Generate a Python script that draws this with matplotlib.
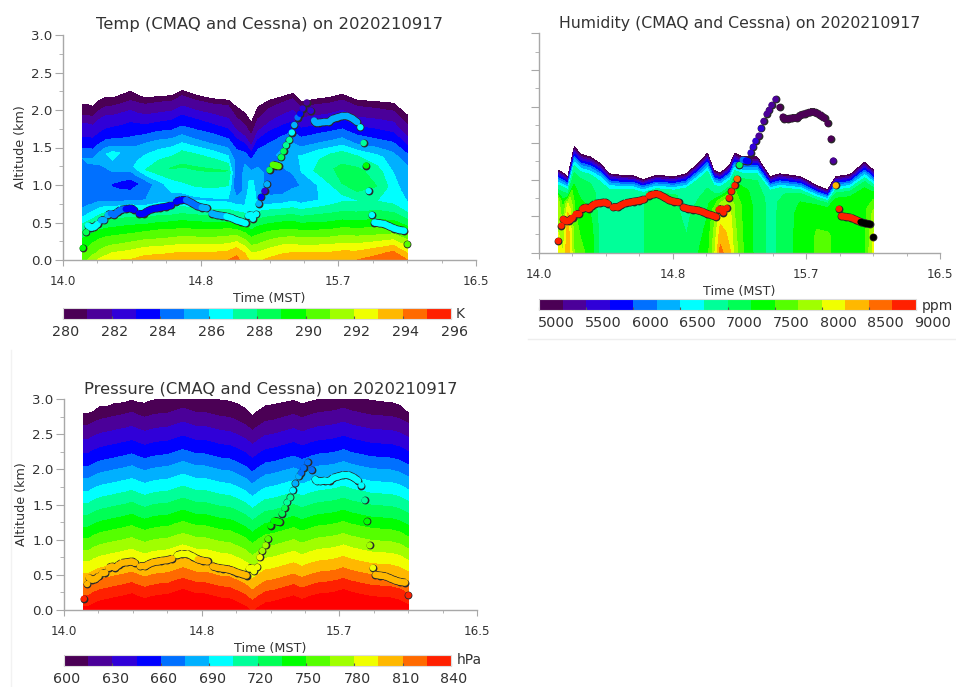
import matplotlib
matplotlib.use('Agg')
import matplotlib.pyplot as plt
import numpy as np
from matplotlib.cm import ScalarMappable
from matplotlib.collections import LineCollection
from matplotlib.colors import BoundaryNorm, ListedColormap
from matplotlib.lines import Line2D
from matplotlib.transforms import ScaledTranslation

# flight track (Cessna), same for all three panels
track_time = [
    14.12, 14.14, 14.15, 14.17, 14.19, 14.21, 14.23, 14.25, 14.27, 14.29,
    14.31, 14.33, 14.35, 14.38, 14.41, 14.43, 14.46, 14.49, 14.51, 14.54,
    14.57, 14.59, 14.625, 14.655, 14.685, 14.715, 14.745, 14.78, 14.81, 14.84,
    14.87, 14.90, 14.93, 14.96, 14.99, 15.02, 15.05, 15.08, 15.105, 15.12,
    15.14, 15.15, 15.17, 15.185, 15.20, 15.22, 15.235, 15.25, 15.27, 15.29,
    15.305, 15.32, 15.335, 15.35, 15.37, 15.385, 15.40, 15.42, 15.435, 15.45,
    15.475, 15.50, 15.52, 15.53, 15.55, 15.58, 15.61, 15.63, 15.66, 15.69,
    15.72, 15.75, 15.78, 15.80, 15.82, 15.835, 15.85, 15.87, 15.885, 15.915,
    15.945, 15.975, 16.005, 16.035, 16.065, 16.085]
track_alt = [
    .16, .37, .46, .43, .44, .48, .53, .53, .60, .62,
    .60, .64, .67, .68, .69, .67, .62, .62, .65, .68,
    .69, .70, .71, .73, .78, .80, .80, .76, .72, .70,
    .69, .62, .60, .59, .58, .56, .53, .51, .49, .59,
    .60, .55, .61, .75, .84, .92, 1.01, 1.20, 1.27, 1.26,
    1.25, 1.37, 1.45, 1.53, 1.60, 1.70, 1.80, 1.90, 1.95, 2.02,
    2.10, 1.99, 1.86, 1.83, 1.83, 1.84, 1.84, 1.88, 1.90, 1.92,
    1.92, 1.89, 1.84, 1.77, 1.56, 1.26, .92, .60, .50, .49,
    .48, .45, .42, .40, .39, .21]
temp_obs = [
    289.5, 288, 286.6, 286.5, 286.3, 286, 285.5, 285.5, 285, 284.5,
    284.5, 284, 284, 283.8, 283.5, 283.5, 283.2, 283.2, 283.5, 283.5,
    283.5, 283.7, 283.7, 283.5, 283.3, 283.5, 284, 284.5, 284.7, 285,
    285.2, 285.5, 285.7, 285.8, 286, 286.2, 286.3, 286.5, 286.7, 286.5,
    286.5, 286.5, 286.3, 285.5, 283.5, 282.7, 285, 288.5, 290, 290.5,
    290.5, 288.7, 288.3, 287.7, 287.5, 286.7, 285.5, 284.3, 283.5, 282.8,
    281.5, 282, 285.5, 285.3, 285.3, 285.3, 285.5, 285.5, 285.5, 285.5,
    285.5, 285.7, 285.8, 286.5, 287.5, 289.3, 286.8, 286, 286.5, 286.5,
    286.5, 286.5, 286.4, 286.3, 286.3, 290.5]
hum_obs = [
    8800, 8800, 8800, 8800, 8800, 8800, 8800, 8800, 8800, 8800,
    8800, 8800, 8800, 8800, 8800, 8800, 8800, 8800, 8800, 8800,
    8800, 8800, 8800, 8800, 8800, 8800, 8800, 8800, 8800, 8800,
    8800, 8800, 8800, 8800, 8800, 8800, 8800, 8800, 8800, 8800,
    8800, 8800, 8800, 8800, 8800, 8800, 8600, 7100, 6000, 5900,
    5900, 5500, 5500, 5500, 5400, 5500, 5400, 5400, 5400, 5300,
    5300, 5100, 5100, 5100, 5100, 5100, 5100, 5100, 5100, 5100,
    5100, 5100, 5050, 5050, 5100, 5400, 8300, 8800, 8800, 8800,
    8800, 8800, 9500, 9500, 9500, 9500]
pres_obs = [
    838, 808, 802, 802, 800, 800, 798, 798, 797, 797,
    797, 797, 797, 797, 797, 797, 797, 797, 797, 797,
    797, 797, 797, 796, 794, 793, 793, 794, 796, 797,
    797, 797, 797, 797, 797, 797, 797, 798, 798, 792,
    792, 792, 792, 782, 775, 768, 760, 742, 735, 736,
    737, 727, 720, 712, 706, 698, 688, 678, 672, 668,
    665, 670, 692, 692, 692, 692, 692, 692, 692, 692,
    692, 692, 692, 697, 716, 745, 775, 790, 797, 797,
    798, 800, 803, 805, 806, 835]

# CMAQ temperature (K): columns at temp_time, rows at temp_alt
temp_time = [14.12, 14.2, 14.3, 14.4, 14.5, 14.6, 14.7, 14.8, 14.9, 15.0, 15.05, 15.1,
             15.15, 15.2, 15.3, 15.4, 15.5, 15.6, 15.7, 15.8, 15.9, 16.0, 16.085]
temp_alt = [0, .1, .2, .3, .4, .5, .65, .8, 1.0, 1.2, 1.4, 1.55, 1.7, 1.85, 2.0, 2.15]
temp_field = [
    [290.5, 292, 293, 293, 293.5, 293.5, 293.7, 294, 293.7, 294, 294.3, 293.5, 292.5, 293, 293.5, 293.7, 293.7, 293.7, 294, 294, 294.5, 295, 294],
    [290, 291, 292, 292.2, 292.7, 292.8, 293, 293, 293, 293.2, 293.8, 293, 292, 292.2, 292.8, 293, 293, 293, 293.2, 293.2, 293.7, 294.2, 293],
    [289.5, 290.5, 291, 291.2, 291.7, 291.8, 292, 292, 292, 292.2, 292.7, 292, 291, 291.3, 292, 292, 292, 292, 292.2, 292.2, 292.6, 293, 292],
    [289, 289.8, 290.2, 290.3, 290.7, 290.8, 291, 291, 291, 291.2, 291.5, 291, 290.3, 290.5, 291, 291, 291, 291, 291.2, 291.2, 291.4, 291.7, 291],
    [288, 289, 289.3, 289.4, 289.8, 290, 290, 290, 290, 290.3, 290.3, 290, 289.5, 289.8, 290, 290, 290, 290, 290.2, 290.3, 290.4, 290.5, 290],
    [287, 288, 288.4, 288.4, 288.7, 289, 289, 289, 289, 289, 289.2, 289, 288.7, 288.8, 289, 289, 289, 289, 289.2, 289.3, 289.4, 289.4, 289],
    [285.5, 286.5, 287, 287, 287, 287.3, 287.3, 287.3, 287.3, 287.3, 287.3, 287.3, 287.3, 287.3, 287.3, 287.3, 287.5, 287.7, 287.8, 288, 288.2, 288, 287.5],
    [284.5, 285, 284.5, 284.2, 285, 285.5, 285.6, 285.8, 285.8, 285.8, 285.8, 286, 286.5, 285.5, 285.2, 285.6, 285.8, 286.2, 286.7, 287, 287, 286.7, 286.2],
    [284.5, 285, 283.9, 283.6, 284.2, 286, 287, 287.3, 287.3, 287, 283.9, 285.5, 287, 284.5, 284.2, 284.7, 285.5, 286.7, 288.2, 288.8, 288, 286.5, 285.5],
    [285, 284.5, 285.2, 285.6, 287, 288, 288.1, 288.1, 288.1, 288, 283.9, 285.5, 286.5, 284.5, 284.8, 285.3, 287, 287.8, 288.3, 288.3, 287.5, 286, 285.3],
    [285, 285.2, 286.5, 285.3, 286, 286.5, 286.9, 286.9, 286.7, 286, 284.6, 285, 285, 284.5, 285, 285.8, 286.6, 287, 287.1, 287, 286.3, 285.5, 285],
    [284, 284, 284.5, 284, 285, 285.3, 285.4, 285.2, 285, 284.6, 284, 284.2, 284.2, 283.9, 284.4, 284.8, 285, 285.2, 285.3, 285, 284.8, 284.5, 284.2],
    [283, 283, 283.2, 283.2, 283.7, 284, 284, 284, 283.9, 283.5, 283, 283, 282.8, 283, 283.5, 283.7, 283.8, 284, 284, 283.8, 283.5, 283.3, 283],
    [282.3, 282.3, 282.7, 282.5, 282.6, 282.7, 282.9, 282.9, 282.7, 282.3, 281.8, 281.6, 281.3, 281.8, 282.3, 282.5, 282.5, 282.6, 282.8, 282.5, 282.5, 282.3, 281.8],
    [281, 281, 281.2, 281.1, 281.4, 281.5, 281.6, 281.6, 281.6, 281.5, 281, 280.9, 280.8, 281, 281.4, 281.6, 281.5, 281.5, 281.5, 281.4, 281.3, 281.2, 281],
    [280.5, 280.5, 280.5, 280.5, 280.5, 280.5, 280.5, 280.5, 280.5, 280.5, 280.5, 280.5, 280.5, 280.5, 280.5, 280.5, 280.5, 280.5, 280.5, 280.5, 280.5, 280.5, 280.5],
]
temp_top_time = [14.12, 14.15, 14.18, 14.22, 14.26, 14.3, 14.35, 14.41, 14.45, 14.5, 14.58, 14.66, 14.72, 14.8, 14.9, 15.0,
                 15.05, 15.1, 15.14, 15.18, 15.25, 15.33, 15.39, 15.44, 15.55, 15.62, 15.69, 15.78, 15.9, 16.0, 16.085]
temp_top = [2.07, 2.07, 2.05, 2.13, 2.17, 2.16, 2.2, 2.25, 2.2, 2.16, 2.18, 2.19, 2.26, 2.2, 2.15, 2.13,
            2.04, 1.96, 1.83, 2.04, 2.13, 2.18, 2.22, 2.11, 2.15, 2.17, 2.21, 2.13, 2.11, 2.09, 1.93]

# CMAQ humidity (ppm): columns at hum_time, rows at hum_frac of the top edge
hum_time = [14.12, 14.15, 14.18, 14.2, 14.23, 14.3, 14.4, 14.5, 14.6, 14.75, 14.9, 15.05,
            15.1, 15.14, 15.18, 15.22, 15.3, 15.45, 15.6, 15.75, 15.95, 16.07, 16.085]
hum_frac = [0, .25, .5, .65, .75, .82, .88, .93, .97, 1.0]
hum_field = [
    [8050, 8000, 8500, 8000, 7600, 7550, 6800, 6800, 6800, 7300, 7000, 7400, 8000, 8800, 8400, 7900, 7300, 6900, 7300, 7550, 7400, 7450, 8100],
    [8000, 7800, 8400, 8000, 7400, 7500, 6800, 6800, 6800, 7300, 6950, 7300, 7900, 8500, 8300, 7800, 7300, 6900, 7300, 7550, 7400, 7450, 8000],
    [7900, 7600, 8300, 7800, 7300, 7300, 6800, 6800, 6800, 7300, 6900, 7200, 7700, 8250, 8150, 7700, 7300, 6900, 7300, 7500, 7400, 7400, 7800],
    [7800, 7300, 8000, 7500, 7100, 7200, 6800, 6850, 6850, 7250, 6900, 7000, 7300, 7800, 7800, 7500, 7250, 6900, 7250, 7350, 7350, 7350, 7500],
    [7050, 7050, 7100, 7100, 7000, 7000, 6800, 6850, 6850, 7250, 6900, 6900, 6900, 7000, 7000, 7100, 7100, 6850, 7150, 7200, 7200, 7200, 7200],
    [6750, 6750, 6800, 6800, 6750, 6750, 6700, 6750, 6750, 6800, 6750, 6750, 6750, 6800, 6800, 6800, 6800, 6750, 6800, 6800, 6800, 6800, 6800],
    [6300, 6300, 6350, 6350, 6300, 6300, 6300, 6300, 6350, 6350, 6300, 6300, 6300, 6350, 6350, 6350, 6350, 6300, 6300, 6350, 6350, 6350, 6350],
    [5800, 5800, 5800, 5800, 5750, 5800, 5800, 5800, 5800, 5800, 5800, 5800, 5800, 5800, 5800, 5800, 5800, 5800, 5800, 5800, 5800, 5800, 5800],
    [5350, 5350, 5350, 5350, 5350, 5350, 5350, 5350, 5350, 5350, 5350, 5350, 5350, 5350, 5350, 5350, 5350, 5350, 5350, 5350, 5350, 5350, 5350],
    [4950, 4950, 4950, 4950, 4950, 4950, 4950, 4950, 4950, 4950, 4950, 4950, 4950, 4950, 4950, 4950, 4950, 4950, 4950, 4950, 4950, 4950, 4950],
]
hum_top_time = [14.12, 14.15, 14.18, 14.22, 14.26, 14.32, 14.38, 14.44, 14.51, 14.59, 14.65, 14.73, 14.84, 14.92, 15.0, 15.05,
                15.09, 15.13, 15.19, 15.22, 15.27, 15.36, 15.44, 15.5, 15.63, 15.73, 15.8, 15.85, 15.94, 16.03, 16.085]
hum_top = [1.13, 1.09, 1.04, 1.45, 1.35, 1.31, 1.22, 1.08, 1.06, 1.05, 1.0, 1.06, 1.04, 1.08, 1.24, 1.36,
           1.13, 1.09, 1.2, 1.36, 1.31, 1.31, 1.04, 1.08, 1.04, .92, .86, 1.04, 1.07, 1.24, 1.13]

# CMAQ pressure (hPa): altitude of each isobar at the crest, shifted by pres_offset along time
pres_levels = [900, 840, 825, 810, 795, 780, 765, 750, 735, 720, 705, 690, 675, 660, 645, 630, 615]
pres_alt = [-.3, .29, .45, .60, .76, .925, 1.09, 1.26, 1.42, 1.59, 1.76, 1.93, 2.11, 2.28, 2.47, 2.67, 2.87]
pres_time = [14.12, 14.15, 14.18, 14.22, 14.26, 14.3, 14.34, 14.38, 14.41, 14.45, 14.49, 14.53, 14.58, 14.63, 14.68,
             14.72, 14.76, 14.8, 14.85, 14.9, 14.95, 15.0, 15.05, 15.1, 15.14, 15.18, 15.22, 15.27, 15.33, 15.39,
             15.44, 15.5, 15.55, 15.6, 15.65, 15.69, 15.74, 15.8, 15.86, 15.92, 15.98, 16.03, 16.085]
pres_offset = [-.24, -.24, -.2, -.16, -.14, -.12, -.1, -.08, -.06, -.1, -.13, -.1, -.08, -.07, -.03,
               0, -.03, -.06, -.06, -.09, -.12, -.13, -.18, -.24, -.32, -.25, -.19, -.17, -.13, -.09,
               -.14, -.09, -.06, -.05, -.03, 0, -.04, -.07, -.1, -.11, -.12, -.15, -.22]
pres_top = [2.79, 2.8, 2.82, 2.9, 2.89, 2.93, 2.94, 2.96, 2.98, 2.95, 2.94, 2.98, 3.0, 3.0, 3.02,
            3.04, 3.03, 3.02, 3.02, 3.01, 2.98, 2.97, 2.93, 2.86, 2.76, 2.84, 2.9, 2.92, 2.95, 2.98,
            2.93, 2.97, 3.0, 3.02, 3.02, 3.04, 3.02, 3.0, 2.98, 2.96, 2.95, 2.91, 2.8]

temp_ticks = [280, 282, 284, 286, 288, 290, 292, 294, 296]
hum_ticks = [5000, 5500, 6000, 6500, 7000, 7500, 8000, 8500, 9000]
pres_ticks = [600, 630, 660, 690, 720, 750, 780, 810, 840]
x_ticks = [14.0, 14 + 5 / 6, 15 + 2 / 3, 16.5]
x_labels = ['14.0', '14.8', '15.7', '16.5']
band_colors = ['#4b0055', '#4b0099', '#3000d8', '#0000ff', '#0070ff', '#00b0ff', '#00ffff', '#00ff99',
               '#00ff55', '#00ff00', '#55ff00', '#a0ff00', '#f0ff00', '#ffb800', '#ff6a00', '#ff2000']

W, H = 956, 687
TEXT = '#333333'
GREY = '#a8a8a8'


def px_axes(fig, left, right, top, bottom):
    return fig.add_axes([left / W, 1 - bottom / H, (right - left) / W, (bottom - top) / H])


def make_cmap(over):
    cmap = ListedColormap(band_colors)
    cmap.set_under(band_colors[0])
    cmap.set_over(over)
    return cmap


def on_top_grid(field, time, top_time):
    # bring the table columns onto the finer time grid of the top edge
    return np.array([np.interp(top_time, time, row) for row in field])


def draw_track(ax, obs, cmap, norm):
    # level legs are joined into a tube, only the outer outline stays dark
    segs = []
    seg_colors = []
    for i in range(len(track_time) - 1):
        if abs(track_alt[i + 1] - track_alt[i]) < 0.05:
            segs.append([(track_time[i], track_alt[i]), (track_time[i + 1], track_alt[i + 1])])
            seg_colors.append(cmap(norm(obs[i])))
    ax.add_collection(LineCollection(segs, colors='#2a2a2a', linewidths=5.7, capstyle='butt', zorder=3))
    ax.scatter(track_time, track_alt, s=32, c='#2a2a2a', lw=0, zorder=3, clip_on=False)
    ax.add_collection(LineCollection(segs, colors=seg_colors, linewidths=4.6, capstyle='butt', zorder=4))
    ax.scatter(track_time, track_alt, s=21, c=obs, cmap=cmap, norm=norm, lw=0, zorder=4, clip_on=False)


def draw_panel(fig, box, cbox, title, title_size, ticks, unit, unit_pos, X, Y, Z, obs, over, label_shift, label_size, show_y=True):
    ax = px_axes(fig, *box)
    levels = np.linspace(ticks[0], ticks[-1], 17)
    cmap = make_cmap(over)
    norm = BoundaryNorm(levels, 16)
    ax.contourf(X, Y, Z, levels=levels, cmap=cmap, norm=norm, extend='both')
    draw_track(ax, obs, cmap, norm)

    ax.set_xlim(14, 16.5)
    ax.set_ylim(0, 3)
    ax.set_xticks(x_ticks)
    ax.set_xticklabels(x_labels)
    ax.set_xticks([14 + i * 5 / 24 for i in range(13)], minor=True)
    ax.set_yticks([0, .5, 1, 1.5, 2, 2.5, 3])
    ax.set_yticks(np.arange(.25, 3, .5), minor=True)
    ax.spines[['top', 'right']].set_visible(False)
    ax.spines[['left', 'bottom']].set_color(GREY)
    ax.spines[['left', 'bottom']].set_linewidth(1)
    ax.tick_params(axis='x', which='major', length=4, color=GREY, labelsize=8.6, labelcolor=TEXT, pad=7)
    ax.tick_params(axis='x', which='minor', length=2.5, color=GREY)
    ax.tick_params(axis='y', which='major', length=6, color=GREY, labelsize=9.6, labelcolor=TEXT, pad=1.5)
    ax.tick_params(axis='y', which='minor', length=3, color=GREY)
    ax.set_xlabel('Time (MST)', fontsize=9.2, color=TEXT, labelpad=3)
    if show_y:
        ax.set_ylabel('Altitude (km)', fontsize=9.2, color=TEXT, labelpad=3)
    else:
        ax.set_yticklabels([])
    ax.set_title(title, fontsize=title_size, color=TEXT, pad=4)

    cax = px_axes(fig, *cbox)
    cbar = fig.colorbar(ScalarMappable(norm=norm, cmap=cmap), cax=cax, orientation='horizontal',
                        ticks=ticks, spacing='proportional')
    cbar.minorticks_off()
    cbar.outline.set_edgecolor('#dddddd')
    cbar.ax.tick_params(length=2.5, direction='in', color='#555555', labelsize=label_size, labelcolor=TEXT, pad=4)
    shift = ScaledTranslation(label_shift / 100, 0, fig.dpi_scale_trans)
    for lab in cbar.ax.get_xticklabels():
        lab.set_transform(lab.get_transform() + shift)
    fig.text(unit_pos[0] / W, 1 - unit_pos[1] / H, unit, fontsize=10, color=TEXT, ha='left', va='center')
    return ax


fig = plt.figure(figsize=(W / 100, H / 100), dpi=100)

# temperature
top = np.array(temp_top)
X = np.tile(np.array(temp_top_time), (len(temp_alt), 1))
Y = np.outer(temp_alt, top) / temp_alt[-1]
Z = on_top_grid(temp_field, temp_time, temp_top_time)
draw_panel(fig, (63, 476, 35, 260), (63, 451, 308, 319), 'Temp (CMAQ and Cessna) on 2020210917', 11.8,
           temp_ticks, 'K', (456, 314), X, Y, Z, temp_obs, band_colors[-1], 3, 10.3)

# humidity
top = np.array(hum_top)
X = np.tile(np.array(hum_top_time), (len(hum_frac), 1))
Y = np.outer(hum_frac, top)
Z = on_top_grid(hum_field, hum_time, hum_top_time)
draw_panel(fig, (539, 940, 33.5, 252.7), (539, 916, 299, 310), 'Humidity (CMAQ and Cessna) on 2020210917', 11.3,
           hum_ticks, 'ppm', (922, 306), X, Y, Z, hum_obs, 'black', 17, 10.4, show_y=False)

# pressure
top = np.array(pres_top)
offset = np.array(pres_offset)
Y = np.vstack([np.add.outer(pres_alt, offset), top])
Z = np.vstack([np.outer(pres_levels, np.ones(len(top))), np.full(len(top), 599.0)])
X = np.tile(np.array(pres_time), (Y.shape[0], 1))
draw_panel(fig, (64, 477, 399, 610), (64, 451, 655, 666), 'Pressure (CMAQ and Cessna) on 2020210917', 11.8,
           pres_ticks, 'hPa', (457, 660), X, Y, Z, pres_obs, '#ff0000', 3, 10.3)

# faint frame lines left over around the panels
fig.add_artist(Line2D([528 / W, 1], [1 - 339 / H, 1 - 339 / H], color='#eeeeee', lw=1))
fig.add_artist(Line2D([11 / W, 11 / W], [1 - 350 / H, 0], color='#f2f2f2', lw=1))

fig.savefig('out.png', dpi=100)
